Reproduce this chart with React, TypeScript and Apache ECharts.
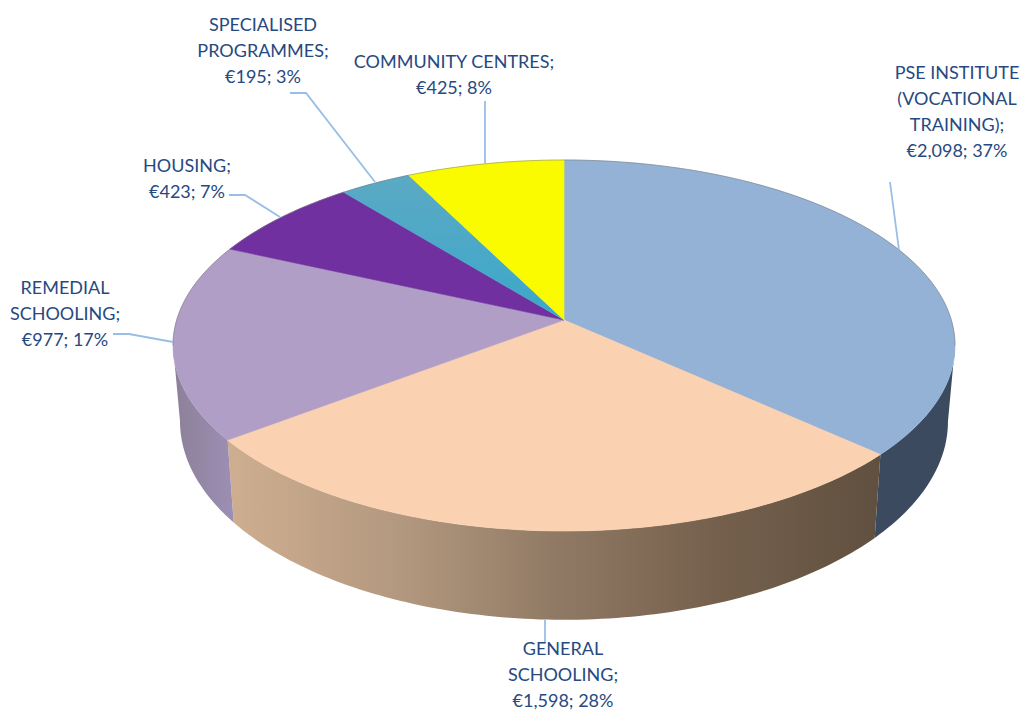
import React, { useEffect, useRef } from "react";
import * as echarts from "echarts";

const categories = [
  "PSE INSTITUTE\n(VOCATIONAL\nTRAINING)",
  "GENERAL\nSCHOOLING",
  "REMEDIAL\nSCHOOLING",
  "HOUSING",
  "SPECIALISED\nPROGRAMMES",
  "COMMUNITY CENTRES",
];
const values = [2098, 1598, 977, 423, 195, 425];
const percents = [37, 28, 17, 7, 3, 8];

// Presentation only
const CX = 564;
const CY = 320;
const A = 387.3;
const B = 182;
const K = 0.1375;
const SX = 0.982;
const SY = 1.07;
const DEPTH = 74;
const SIL_R = 97.9;
const SIL_L = 262.1;
const LINE = "#98BEE8";
const TEXT = "#26497F";

const v = (stops: string[]) =>
  new echarts.graphic.LinearGradient(
    0, 0, 1, 0,
    stops.map((color, i) => ({ offset: i / (stops.length - 1), color }))
  );

const topFills: any[] = [
  "#94B2D6",
  "#FAD2B2",
  "#B09EC6",
  "#7030A0",
  new echarts.graphic.LinearGradient(0, 0, 0, 1, [
    { offset: 0, color: "#5CA9C4" },
    { offset: 1, color: "#3AA8CA" },
  ]),
  "#FBFB00",
];
const wallFills: any[] = [
  "#3C4A5F",
  v(["#CFAE90", "#B49A80", "#917A65", "#75604D", "#60503F"]),
  v(["#8C8098", "#9C8FB4"]),
  "#4B2070",
  "#2F7F99",
  "#A8A800",
];
const labelPlaces = [
  { x: 957, y: 72 },
  { x: 563, y: 648 },
  { x: 65, y: 287 },
  { x: 187, y: 165 },
  { x: 263, y: 24 },
  { x: 454, y: 61 },
];
const leaders: number[][][] = [
  [[890, 182], [899, 250]],
  [[545, 620], [545, 642]],
  [[113, 334], [129, 334], [173, 342]],
  [[229, 195], [245, 195], [280, 217]],
  [[290, 93], [306, 93], [375, 182]],
  [[485, 101], [485, 163]],
];
const LINE_H = 26;

const total = values.reduce((s, x) => s + x, 0);
const angles = values.reduce<number[]>(
  (acc, x) => [...acc, acc[acc.length - 1] + (x / total) * 360],
  [0]
);

function project(deg: number): [number, number] {
  const r = (deg * Math.PI) / 180;
  const u = Math.sin(r);
  const w = Math.cos(r);
  const d = 1 + K * w;
  return [(A * u) / d, (B * w) / d];
}
const topPt = (deg: number): number[] => {
  const [x, y] = project(deg);
  return [CX + x, CY - y];
};
const lowPt = (deg: number): number[] => {
  const [x, y] = project(deg);
  return [CX + SX * x, CY - SY * y + DEPTH];
};
function sweep(a: number, b: number): number[] {
  const out: number[] = [];
  for (let d = a; d < b; d += 1) out.push(d);
  out.push(b);
  return out;
}

function renderWall(params: any) {
  const i = params.dataIndex;
  const a = Math.max(angles[i], SIL_R);
  const b = Math.min(angles[i + 1], SIL_L);
  if (a >= b) return { type: "group", children: [] };
  const degs = sweep(a, b);
  const points = [...degs.map(topPt), ...degs.slice().reverse().map(lowPt)];
  return {
    type: "polygon",
    shape: { points },
    style: { fill: wallFills[i], stroke: "none" },
    silent: true,
  };
}

function renderTop(params: any) {
  const i = params.dataIndex;
  const degs = sweep(angles[i], angles[i + 1]);
  const points = [[CX, CY], ...degs.map(topPt)];
  const children: any[] = [
    {
      type: "polygon",
      shape: { points },
      style: {
        fill: topFills[i],
        stroke: typeof topFills[i] === "string" ? topFills[i] : "#4AA9C7",
        lineWidth: 0.6,
      },
      silent: true,
    },
  ];
  const backA = angles[i] < SIL_R ? angles[i] : Math.max(angles[i], SIL_L);
  const backB = angles[i] < SIL_R ? Math.min(angles[i + 1], SIL_R) : angles[i + 1];
  if (backA < backB) {
    children.push({
      type: "polyline",
      shape: { points: sweep(backA, backB).map(topPt) },
      style: { fill: "none", stroke: "#6F6F6F", lineWidth: 0.8, opacity: 0.6 },
      silent: true,
    });
  }
  return { type: "group", children };
}

export default function App() {
  const ref = useRef<HTMLDivElement>(null);
  useEffect(() => {
    document.body.style.margin = "0";
    const chart = echarts.init(ref.current!, null, { renderer: "svg" });
    const fmt = (n: number) => n.toLocaleString("en-US");
    const seriesData = values.map((value, i) => ({
      value,
      name: categories[i].replace(/\n/g, " "),
    }));
    chart.setOption({
      animation: false,
      backgroundColor: "#fff",
      series: [
        {
          type: "custom",
          coordinateSystem: "none",
          renderItem: renderWall,
          data: seriesData,
          z: 1,
          silent: true,
        },
        {
          type: "custom",
          coordinateSystem: "none",
          renderItem: renderTop,
          data: seriesData,
          z: 2,
          silent: true,
        },
      ],
      graphic: [
        ...leaders.map((points) => ({
          type: "polyline",
          z: 5,
          silent: true,
          shape: { points },
          style: { fill: "none", stroke: LINE, lineWidth: 1.8 },
        })),
        ...categories.map((c, i) => ({
          type: "text",
          z: 6,
          silent: true,
          x: labelPlaces[i].x,
          y: labelPlaces[i].y - LINE_H / 2,
          style: {
            text: `${c};\n€${fmt(values[i])}; ${percents[i]}%`,
            fill: TEXT,
            font: "18px Lato",
            lineHeight: LINE_H,
            align: "center",
            verticalAlign: "top",
          },
        })),
      ],
    });
    return () => chart.dispose();
  }, []);
  return <div ref={ref} style={{ width: 1022, height: 711 }} />;
}
